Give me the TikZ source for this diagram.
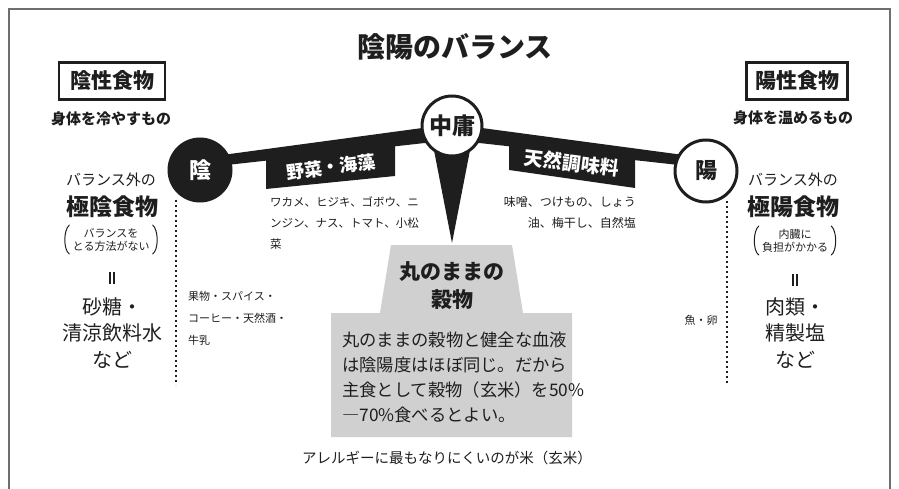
\documentclass[tikz,border=0pt]{standalone}
\usepackage{fontspec}
\setmainfont{Noto Sans CJK JP}
\definecolor{boxgray}{RGB}{208,208,208}
\definecolor{framegray}{RGB}{110,110,110}
\definecolor{ink}{RGB}{30,30,30}
\begin{document}
\begin{tikzpicture}[x=1pt,y=-1pt,
  txt/.style={inner sep=0pt, text=ink},
  dotline/.style={draw=ink, line width=1.8pt, dash pattern=on 2pt off 3pt},
  headbox/.style={draw=ink, line width=2.5pt, inner sep=0pt, minimum height=37pt, text=ink, font=\bfseries\fontsize{21}{23}\selectfont},
  ring/.style={circle, draw=ink, line width=3pt, fill=white, inner sep=0pt, minimum size=60pt, text=ink, font=\bfseries\fontsize{22}{24}\selectfont},
  tagtext/.style={inner sep=0pt, text=white, font=\bfseries\fontsize{18}{20}\selectfont},
  small/.style={txt, font=\fontsize{11.5}{21}\selectfont},
  colhead/.style={txt, font=\fontsize{15}{17}\selectfont},
  colbig/.style={txt, font=\bfseries\fontsize{23}{25}\selectfont},
  colfood/.style={txt, align=center, font=\fontsize{20}{26.5}\selectfont},
  parentext/.style={txt, align=center, font=\fontsize{11}{13.5}\selectfont},
  paren/.style={draw=ink, line width=1pt, line cap=round},
  vbar/.style={draw=ink, line width=1.6pt}
]
\path[use as bounding box] (0,0) rectangle (899,489);
\draw[framegray, line width=1.5pt] (9,489) -- (9,9) -- (890,9) -- (890,489);

% title
\node[txt, font=\bfseries\fontsize{28}{30}\selectfont] (title) at (455,47) {陰陽のバランス};

% header boxes
\node[headbox, minimum width=106pt] (yinbox) at (112,81) {陰性食物};
\node[headbox, minimum width=101pt] (yangbox) at (797,81) {陽性食物};
\node[txt, font=\bfseries\fontsize{15}{17}\selectfont] (yinsub) at (111,119) {身体を冷やすもの};
\node[txt, font=\bfseries\fontsize{15}{17}\selectfont] (yangsub) at (793,118) {身体を温めるもの};

% gray grain shape
\fill[boxgray] (391,245) -- (512,245) -- (523,313) -- (572,313) -- (572,437) -- (331,437) -- (331,313) -- (380,313) -- cycle;

% circle positions
\coordinate (yinc) at (200,170);
\coordinate (chuc) at (452,126);
\coordinate (yangc) at (706,171);

% band
\fill[ink] ([yshift=12pt]yinc) -- ([yshift=2pt]chuc) -- ([yshift=13pt]yangc)
  -- ([yshift=3pt]yangc) -- ([yshift=-14pt]chuc) -- ([yshift=2pt]yinc) -- cycle;

% tags
\fill[ink] (266,159) -- (395,144) -- (395,176) -- (266,189) -- cycle;
\fill[ink] (509,138) -- (635,153) -- (635,188) -- (509,170) -- cycle;
\node[tagtext, rotate=7] (tagveg) at (331,167) {野菜・海藻};
\node[tagtext, rotate=-7, font=\bfseries\fontsize{19}{21}\selectfont] (tagseas) at (572,163) {天然調味料};

% pin
\fill[ink] (432,140) -- (472,140) -- (452,243) -- cycle;

% circles
\node[ring, fill=ink, text=white, minimum size=62pt] (yin) at (yinc) {陰};
\node[ring, font=\bfseries\fontsize{23}{25}\selectfont] (chu) at (chuc) {中庸};
\node[ring, minimum size=62pt] (yang) at (yangc) {陽};

% dotted lines
\coordinate (ld1) at (176,200); \coordinate (ld2) at (176,385);
\coordinate (rd1) at (727,201); \coordinate (rd2) at (727,385);
\draw[dotline] (ld1) -- (ld2);
\draw[dotline] (rd1) -- (rd2);

% left column
\node[colhead] (lout) at (111,180) {バランス外の};
\node[colbig] (lext) at (112,207) {極陰食物};
\node[parentext] (lparen) at (111,240) {バランスを\\とる方法がない};
\draw[paren] ([xshift=-3pt,yshift=3pt]lparen.north west) .. controls ([xshift=-9pt,yshift=-2pt]lparen.north west) and ([xshift=-9pt,yshift=2pt]lparen.south west) .. ([xshift=-3pt,yshift=-2pt]lparen.south west);
\draw[paren] ([xshift=3pt,yshift=3pt]lparen.north east) .. controls ([xshift=9pt,yshift=-2pt]lparen.north east) and ([xshift=9pt,yshift=2pt]lparen.south east) .. ([xshift=3pt,yshift=-2pt]lparen.south east);
\coordinate (leq) at (112,278);
\draw[vbar] ([xshift=-1.8pt,yshift=6pt]leq) -- ([xshift=-1.8pt,yshift=-6pt]leq);
\draw[vbar] ([xshift=1.8pt,yshift=6pt]leq) -- ([xshift=1.8pt,yshift=-6pt]leq);
\node[colfood] (lfood) at (112,333) {砂糖・\\清涼飲料水\\など};

% right column
\node[colhead] (rout) at (793,180) {バランス外の};
\node[colbig] (rext) at (793,207) {極陽食物};
\node[parentext] (rparen) at (795,241) {内臓に\\負担がかかる};
\draw[paren] ([xshift=-3pt,yshift=3pt]rparen.north west) .. controls ([xshift=-9pt,yshift=-2pt]rparen.north west) and ([xshift=-9pt,yshift=2pt]rparen.south west) .. ([xshift=-3pt,yshift=-2pt]rparen.south west);
\draw[paren] ([xshift=3pt,yshift=3pt]rparen.north east) .. controls ([xshift=9pt,yshift=-2pt]rparen.north east) and ([xshift=9pt,yshift=2pt]rparen.south east) .. ([xshift=3pt,yshift=-2pt]rparen.south east);
\coordinate (req) at (795,280);
\draw[vbar] ([xshift=-1.8pt,yshift=6pt]req) -- ([xshift=-1.8pt,yshift=-6pt]req);
\draw[vbar] ([xshift=1.8pt,yshift=6pt]req) -- ([xshift=1.8pt,yshift=-6pt]req);
\node[colfood] (rfood) at (795,333) {肉類・\\精製塩\\など};

% food lists
\node[small, anchor=west, align=left] (veg) at (270,223) {ワカメ、ヒジキ、ゴボウ、ニ\\ンジン、ナス、トマト、小松\\菜};
\node[small, anchor=west, align=left, font=\fontsize{11}{22}\selectfont] (fruit) at (188,318) {果物・スパイス・\\コーヒー・天然酒・\\牛乳};
\node[small, anchor=east, align=right, font=\fontsize{12}{21}\selectfont] (miso) at (636,212.5) {味噌、つけもの、しょう\\油、梅干し、自然塩};
\node[small, font=\fontsize{11}{13}\selectfont] (fish) at (701,320) {魚・卵};

% grain box text
\node[txt, align=center, font=\bfseries\fontsize{21}{28}\selectfont] (grtitle) at (452,286) {丸のままの\\穀物};
\node[txt, anchor=west, align=left, font=\fontsize{17.3}{25}\selectfont] (grbody) at (342,377.5) {丸のままの穀物と健全な血液\\は陰陽度はほぼ同じ。だから\\主食として穀物（玄米）を50\%\\―70\%食べるとよい。};

% bottom
\node[txt, font=\fontsize{14.5}{16}\selectfont] (allergy) at (447,458) {アレルギーに最もなりにくいのが米（玄米）};
\end{tikzpicture}
\end{document}
